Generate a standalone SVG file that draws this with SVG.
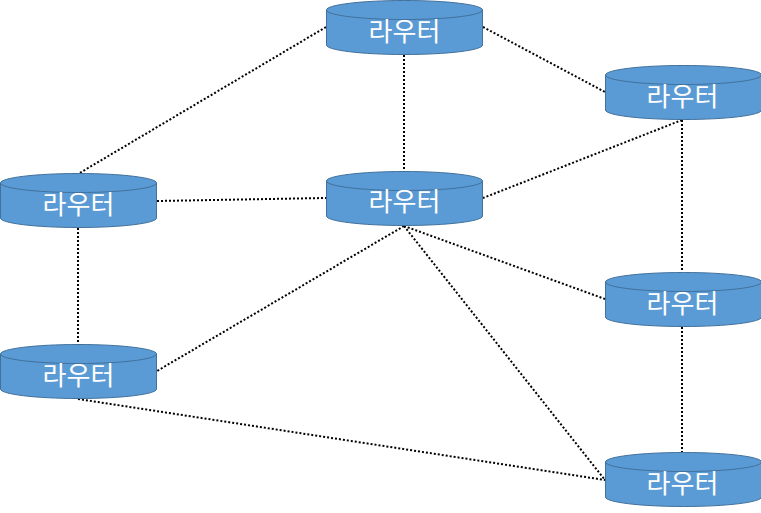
<svg xmlns="http://www.w3.org/2000/svg" width="761" height="513" viewBox="0 0 761 513">
<defs>
<style>
.c{fill:none;stroke:#000;stroke-width:2;stroke-dasharray:2 2}
.b{fill:#5b9bd5;stroke:#41719c;stroke-width:1}
.t{fill:none;stroke:#41719c;stroke-width:1}
text{fill:#fff;font-family:"Noto Sans CJK KR","Noto Sans",sans-serif;font-size:26px;text-anchor:middle}
</style>
<g id="cyl">
<path class="b" d="M0 9.500C0 4.250 35 0 78 0S156 4.250 156 9.500V44.500C156 49.750 121 54 78 54S0 49.750 0 44.500Z"/>
<path class="t" d="M0 9.500C0 14.750 35 19 78 19S156 14.750 156 9.500"/>
</g>
</defs>
<rect width="761" height="513" fill="#fff"/>
<g id="connectors">
<path class="c" d="M404 55V172"/>
<path class="c" d="M326 27L78 174"/>
<path class="c" d="M483 27L605 92"/>
<path class="c" d="M682 120L483 198"/>
<path class="c" d="M682 120V273"/>
<path class="c" d="M157 201L326 198"/>
<path class="c" d="M78 228V345"/>
<path class="c" d="M404 226L157 371"/>
<path class="c" d="M404 226L605 299"/>
<path class="c" d="M404 226L605 480"/>
<path class="c" d="M78 399L605 480"/>
<path class="c" d="M682 327V453"/>
</g>
<g id="n1"><use href="#cyl" x="326.500" y="0.500"/><text x="404.500" y="41">라우터</text></g>
<g id="n2"><use href="#cyl" x="605.500" y="65.500"/><text x="682.500" y="106">라우터</text></g>
<g id="n3"><use href="#cyl" x="326.500" y="171.500"/><text x="404.500" y="211">라우터</text></g>
<g id="n4"><use href="#cyl" x="0.500" y="173.500"/><text x="78.500" y="214">라우터</text></g>
<g id="n5"><use href="#cyl" x="605.500" y="272.500"/><text x="682.500" y="313">라우터</text></g>
<g id="n6"><use href="#cyl" x="0.500" y="344.500"/><text x="78.500" y="385">라우터</text></g>
<g id="n7"><use href="#cyl" x="605.500" y="452.500"/><text x="682.500" y="493">라우터</text></g>
</svg>
